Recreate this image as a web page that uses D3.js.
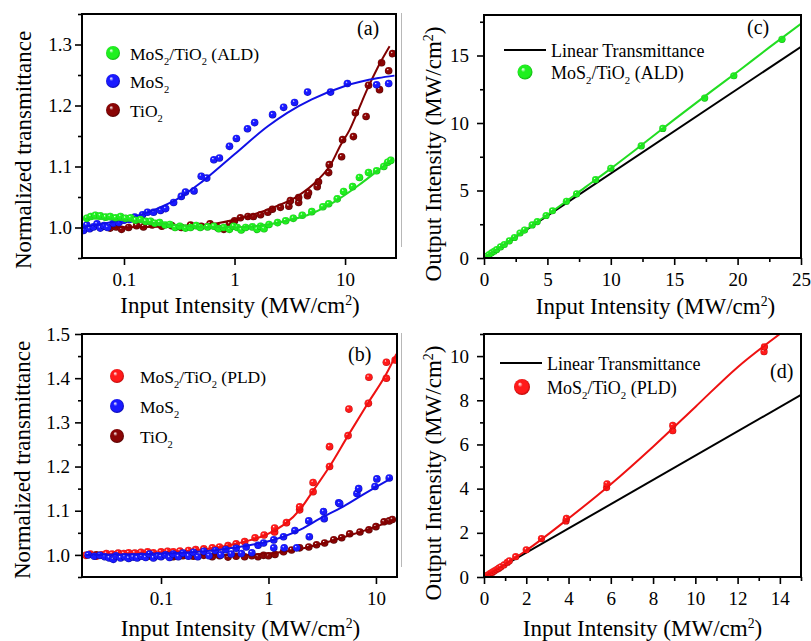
<!DOCTYPE html>
<html>
<head>
<meta charset="utf-8">
<script src="https://cdn.jsdelivr.net/npm/d3@7"></script>
<style>
  body { margin: 0; background: #fff; }
  svg { display: block; }
  svg text, svg tspan { font-family: "Liberation Serif", "Times New Roman", serif !important; fill: #000; }
</style>
</head>
<body>
<svg id="chart" width="811" height="641"></svg>
<script>
// ---------- Panel (a): normalized transmittance vs input intensity (ALD) ----------
const aTiO2Pts = [[0.065,1.002],[0.075,0.999],[0.085,1.001],[0.095,0.997],[0.11,1.0],[0.13,1.003],[0.15,1.001],[0.18,1.004],[0.22,1.002],[0.27,1.003],[0.33,1.0],[0.4,1.004],[0.5,1.002],[0.6,1.006],[0.7,1.0],[0.8,0.997],[0.9,1.006],[1.0,1.011],[1.13,1.016],[1.32,1.018],[1.48,1.018],[1.72,1.021],[2.0,1.025],[2.2,1.03],[2.6,1.033],[3.1,1.035],[3.2,1.044],[3.8,1.041],[3.8,1.049],[4.57,1.052],[4.67,1.057],[5.6,1.067],[5.75,1.075],[7.1,1.09],[7.2,1.103],[9.3,1.116],[9.5,1.144],[11.9,1.149],[12.4,1.188],[15.5,1.182],[16.3,1.233],[20.5,1.226],[21.4,1.27],[24.8,1.257],[26.9,1.285]];
const aTiO2Fit = [[0.055,1.0],[0.3,1.002],[0.7,1.007],[1.4,1.02],[2.25,1.033],[3.7,1.051],[5.75,1.079],[7.4,1.103],[9.1,1.135],[11,1.16],[13,1.19],[16,1.228],[19.7,1.262],[25.3,1.297]];
const aMoS2Pts = [[0.043,0.995],[0.046,1.004],[0.049,0.998],[0.053,1.001],[0.057,1.006],[0.061,0.999],[0.066,1.003],[0.071,1.0],[0.08,1.007],[0.09,1.008],[0.1,1.012],[0.112,1.013],[0.125,1.017],[0.147,1.021],[0.163,1.025],[0.185,1.025],[0.214,1.028],[0.238,1.031],[0.281,1.041],[0.33,1.051],[0.36,1.058],[0.43,1.06],[0.5,1.084],[0.56,1.081],[0.65,1.111],[0.73,1.114],[0.9,1.133],[1.04,1.146],[1.31,1.162],[1.52,1.172],[2.21,1.185],[2.78,1.197],[3.49,1.205],[4.58,1.222],[7.39,1.222],[10.5,1.236],[19.3,1.234],[24.8,1.236]];
const aMoS2Fit = [[0.043,1.001],[0.1,1.013],[0.2,1.031],[0.3,1.046],[0.5,1.074],[1,1.12],[2,1.166],[3,1.188],[5,1.21],[10,1.232],[20,1.245],[28,1.249]];
const aALDPts = [[0.046,1.015],[0.05,1.018],[0.055,1.02],[0.061,1.019],[0.068,1.017],[0.075,1.018],[0.084,1.016],[0.093,1.018],[0.103,1.015],[0.115,1.016],[0.127,1.012],[0.141,1.013],[0.157,1.01],[0.174,1.01],[0.19,1.007],[0.21,1.008],[0.235,1.004],[0.26,1.005],[0.29,1.0],[0.32,1.002],[0.36,0.999],[0.4,1.0],[0.45,1.003],[0.49,1.0],[0.57,1.001],[0.65,1.002],[0.72,0.998],[0.8,1.0],[0.9,0.997],[0.98,1.002],[1.06,1.0],[1.15,0.996],[1.26,1.0],[1.45,1.001],[1.6,0.997],[1.72,1.002],[1.85,0.998],[2.05,1.005],[2.45,1.008],[2.9,1.011],[3.4,1.015],[4.1,1.02],[5.0,1.026],[6.3,1.034],[7.1,1.039],[8.5,1.047],[9.7,1.059],[11.7,1.067],[13.5,1.082],[16.3,1.09],[19.3,1.093],[22.4,1.1],[24.3,1.107],[25.9,1.11]];
const aALDFit = [[0.045,1.015],[0.1,1.012],[0.2,1.007],[0.4,1.002],[0.8,1.0],[1.5,1.002],[3,1.011],[5,1.023],[8,1.042],[13,1.068],[20,1.094],[27,1.113]];
const aYTicks = [1.0, 1.1, 1.2, 1.3];
const aYMinor = [0.95, 1.05, 1.15, 1.25, 1.35];

// ---------- Panel (b): normalized transmittance vs input intensity (PLD) ----------
const bPLDPts = [[0.02,0.999],[0.022,1.002],[0.025,0.997],[0.028,1.0],[0.031,1.003],[0.035,1.002],[0.04,1.004],[0.045,1.003],[0.05,1.005],[0.057,1.004],[0.065,1.006],[0.075,1.007],[0.085,1.005],[0.1,1.007],[0.115,1.008],[0.13,1.007],[0.15,1.009],[0.18,1.01],[0.21,1.012],[0.25,1.014],[0.3,1.016],[0.35,1.018],[0.42,1.021],[0.5,1.025],[0.6,1.03],[0.75,1.039],[0.91,1.045],[1.14,1.052],[1.14,1.061],[1.47,1.073],[1.95,1.102],[1.95,1.109],[2.6,1.143],[2.6,1.164],[3.7,1.2],[3.7,1.245],[5.5,1.27],[5.6,1.33],[8.5,1.343],[8.6,1.402],[12.5,1.40],[12.5,1.436],[15.1,1.441]];
const bPLDFit = [[0.02,1.0],[0.1,1.005],[0.3,1.015],[0.6,1.03],[1,1.048],[2,1.105],[2.6,1.145],[3.7,1.2],[5.5,1.27],[8.5,1.345],[12.5,1.41],[15.5,1.455]];
const bMoS2Pts = [[0.021,1.0],[0.024,0.997],[0.027,0.999],[0.03,0.996],[0.033,0.993],[0.036,0.99],[0.038,0.998],[0.042,0.993],[0.046,0.996],[0.05,0.992],[0.055,0.995],[0.06,0.993],[0.066,0.997],[0.072,0.994],[0.078,1.002],[0.085,0.993],[0.093,0.998],[0.1,0.996],[0.11,1.0],[0.12,0.994],[0.13,1.002],[0.145,0.996],[0.16,1.004],[0.18,0.997],[0.2,1.006],[0.22,0.996],[0.25,1.008],[0.28,0.998],[0.32,1.01],[0.36,1.0],[0.4,1.012],[0.45,1.002],[0.5,1.015],[0.56,1.003],[0.62,1.018],[0.7,1.005],[0.8,1.022],[0.9,1.027],[1.12,1.034],[1.12,1.016],[1.38,1.041],[1.4,1.016],[1.76,1.055],[1.83,1.016],[2.37,1.077],[2.4,1.041],[3.25,1.098],[3.3,1.082],[4.5,1.118],[4.6,1.116],[6.65,1.139],[6.9,1.15],[9.8,1.155],[10.2,1.172],[13.3,1.174]];
const bMoS2Fit = [[0.02,1.0],[0.1,1.003],[0.3,1.01],[0.6,1.02],[1,1.031],[2,1.058],[3,1.082],[5,1.11],[8,1.14],[14,1.174]];
const bTiO2Pts = [[0.025,1.0],[0.04,0.998],[0.06,0.999],[0.08,0.997],[0.1,0.998],[0.13,0.996],[0.16,0.998],[0.2,0.997],[0.25,0.999],[0.3,0.996],[0.35,0.998],[0.42,0.995],[0.5,0.997],[0.6,0.996],[0.7,0.998],[0.8,0.996],[0.9,0.999],[1.0,0.998],[1.15,1.001],[1.38,1.007],[1.64,1.011],[1.95,1.016],[2.37,1.018],[2.8,1.023],[3.33,1.027],[4.05,1.034],[4.8,1.039],[5.7,1.048],[7.1,1.052],[8.6,1.057],[10,1.064],[11.9,1.075],[13.3,1.077],[14.2,1.08]];
const bTiO2Fit = [[0.02,1.0],[0.5,1.0],[1,1.003],[2,1.014],[5,1.04],[10,1.064],[15,1.08]];
const bYTicks = [1.0, 1.1, 1.2, 1.3, 1.4, 1.5];
const bYMinor = [0.95, 1.05, 1.15, 1.25, 1.35, 1.45];

const logXTicks = [0.1, 1, 10];

// ---------- Panel (c): output vs input intensity (ALD) ----------
const cALDPts = [[0.2,0.13],[0.4,0.26],[0.6,0.38],[0.8,0.5],[1.0,0.63],[1.3,0.82],[1.6,1.0],[2.0,1.27],[2.4,1.52],[2.84,1.85],[3.2,2.07],[3.8,2.45],[4.2,2.7],[4.9,3.15],[5.4,3.5],[6.5,4.2],[7.3,4.75],[8.8,5.8],[10.0,6.65],[12.4,8.3],[14.1,9.6],[17.4,11.85],[19.7,13.5],[23.5,16.2]];
const cALDFit = [[0,0.02],[2,1.27],[5,3.2],[8,5.25],[10,6.62],[12,8.05],[15,10.25],[18,12.4],[20,13.8],[22.5,15.6],[25,17.35]];
const cLinear = [[0,0],[25,15.65]];
const cXTicks = [0, 5, 10, 15, 20, 25];
const cXMinor = [2.5, 7.5, 12.5, 17.5, 22.5];
const cYTicks = [0, 5, 10, 15];
const cYMinor = [2.5, 7.5, 12.5, 17.5];

// ---------- Panel (d): output vs input intensity (PLD) ----------
const dPLDPts = [[0.1,0.05],[0.2,0.1],[0.3,0.17],[0.4,0.22],[0.5,0.28],[0.6,0.34],[0.7,0.4],[0.8,0.46],[0.95,0.55],[1.1,0.66],[1.2,0.73],[1.5,0.92],[2.0,1.23],[2.72,1.74],[3.88,2.54],[3.9,2.65],[5.8,4.05],[5.82,4.22],[8.93,6.62],[8.93,6.86],[13.25,10.2],[13.27,10.42]];
const dPLDFit = [[0,0],[2,1.2],[4,2.65],[6,4.2],[8,5.9],[10,7.7],[12,9.5],[14,11.0]];
const dLinear = [[0,0],[15,8.24]];
const dXTicks = [0, 2, 4, 6, 8, 10, 12, 14];
const dXMinor = [1, 3, 5, 7, 9, 11, 13, 15];
const dYTicks = [0, 2, 4, 6, 8, 10];
const dYMinor = [1, 3, 5, 7, 9, 11];

// ---------- colours ----------
const COL = {
  green: { base: "#1ff01f", dark: "#0a9a0a", line: "#22dd22" },
  blue:  { base: "#1a1aff", dark: "#00008a", line: "#1010e6" },
  maroon:{ base: "#8a0505", dark: "#3d0000", line: "#800000" },
  red:   { base: "#ff1a1a", dark: "#a00000", line: "#ee1111" }
};
const SERIF = "'Liberation Serif', 'Times New Roman', serif";

const svg = d3.select("#chart").style("font-family", SERIF);
const defs = svg.append("defs");

// shaded-sphere gradients for the scatter symbols
Object.entries(COL).forEach(([k, c]) => {
  const g = defs.append("radialGradient").attr("id", "sph-" + k)
    .attr("cx", "50%").attr("cy", "50%").attr("r", "55%")
    .attr("fx", "35%").attr("fy", "30%");
  g.append("stop").attr("offset", "0%").attr("stop-color", "#ffffff");
  g.append("stop").attr("offset", "28%").attr("stop-color", c.base);
  g.append("stop").attr("offset", "75%").attr("stop-color", c.base);
  g.append("stop").attr("offset", "100%").attr("stop-color", c.dark);
});

// text with sub/superscripts: parts = [[text, "sub"|"sup"|undefined], ...]
function richText(sel, parts, size) {
  let shift = 0;
  sel.style("font-family", SERIF);
  parts.forEach(([t, kind]) => {
    const ts = sel.append("tspan").text(t).style("font-family", SERIF);
    let target = 0;
    if (kind === "sub") { target = size * 0.3; ts.attr("font-size", size * 0.6); }
    else if (kind === "sup") { target = -size * 0.35; ts.attr("font-size", size * 0.6); }
    ts.attr("dy", target - shift);
    shift = target;
  });
}

const unitParts = [["Input Intensity (MW/cm"], ["2", "sup"], [")"]];

function drawPanel(p) {
  const [x0, y0, x1, y1] = p.box;
  const x = (p.xLog ? d3.scaleLog() : d3.scaleLinear()).domain(p.xDom).range([x0, x1]);
  const y = d3.scaleLinear().domain(p.yDom).range([y1, y0]);
  const g = svg.append("g");

  const clipId = "clip-" + p.id;
  defs.append("clipPath").attr("id", clipId)
    .append("rect").attr("x", x0).attr("y", y0).attr("width", x1 - x0).attr("height", y1 - y0);
  const plot = g.append("g").attr("clip-path", `url(#${clipId})`);

  const line = d3.line().x(d => x(d[0])).y(d => y(d[1])).curve(d3.curveMonotoneX);

  p.series.forEach(s => {
    if (s.pts) {
      plot.append("g").selectAll("circle").data(s.pts).join("circle")
        .attr("cx", d => x(d[0])).attr("cy", d => y(d[1])).attr("r", p.r)
        .attr("fill", `url(#sph-${s.color})`);
    }
    if (s.fit) {
      plot.append("path").datum(s.fit).attr("d", line)
        .attr("fill", "none").attr("stroke", s.lineColor || COL[s.color].line)
        .attr("stroke-width", s.lw || 2);
    }
  });

  // axes (ticks outward on left and bottom)
  const fmt = p.xFmt || (d => d);
  const ax = d3.axisBottom(x).tickValues(p.xTicks).tickSize(7).tickPadding(8).tickFormat(fmt);
  const ay = d3.axisLeft(y).tickValues(p.yTicks).tickSize(7).tickPadding(p.yPad).tickFormat(p.yFmt);
  g.append("g").attr("transform", `translate(0,${y1})`).call(ax);
  g.append("g").attr("transform", `translate(${x0},0)`).call(ay);
  if (p.xMinor) g.append("g").attr("transform", `translate(0,${y1})`)
    .call(d3.axisBottom(x).tickValues(p.xMinor).tickSize(4).tickFormat(""));
  if (p.yMinor) g.append("g").attr("transform", `translate(${x0},0)`)
    .call(d3.axisLeft(y).tickValues(p.yMinor).tickSize(4).tickFormat(""));
  g.selectAll(".domain").remove();
  g.selectAll("g").attr("font-family", null);
  g.selectAll(".tick line").attr("stroke", "#000").attr("stroke-width", 1.6);
  g.selectAll(".tick text").attr("font-size", 19).style("font-family", SERIF).attr("fill", "#000");

  // frame
  g.append("rect").attr("x", x0).attr("y", y0).attr("width", x1 - x0).attr("height", y1 - y0)
    .attr("fill", "none").attr("stroke", "#000").attr("stroke-width", 2);

  // axis titles
  richText(g.append("text").attr("x", (x0 + x1) / 2 + p.xTitleDx).attr("y", p.xTitleY)
    .attr("text-anchor", "middle").attr("font-size", 23), unitParts, 23);
  const yt = g.append("text").attr("transform", `translate(${p.yTitleX},${p.yTitleY}) rotate(-90)`)
    .attr("text-anchor", "middle").attr("font-size", 23);
  richText(yt, p.yTitle, 23);

  // panel tag
  g.append("text").attr("x", p.tag[0]).attr("y", p.tag[1]).attr("font-size", 20)
    .style("font-family", SERIF).text(p.tag[2]);

  // legend
  p.legend.forEach(l => {
    if (l.kind === "line") {
      g.append("line").attr("x1", l.x - 21).attr("x2", l.x + 21).attr("y1", l.y).attr("y2", l.y)
        .attr("stroke", "#000").attr("stroke-width", 2);
    } else {
      g.append("circle").attr("cx", l.x).attr("cy", l.y).attr("r", l.r)
        .attr("fill", `url(#sph-${l.color})`);
    }
    richText(g.append("text").attr("x", l.tx).attr("y", l.y + 7).attr("font-size", l.fs), l.label, l.fs);
  });
}

const ald = [["MoS"], ["2", "sub"], ["/TiO"], ["2", "sub"], [" (ALD)"]];
const pld = [["MoS"], ["2", "sub"], ["/TiO"], ["2", "sub"], [" (PLD)"]];
const mos2 = [["MoS"], ["2", "sub"]];
const tio2 = [["TiO"], ["2", "sub"]];
const normT = [["Normalized transmittance"]];
const outI = [["Output Intensity (MW/cm"], ["2", "sup"], [")"]];
const fmt1 = d3.format(".1f");
const logFmt = d => (d < 1 ? String(d) : d3.format("d")(d));

drawPanel({
  id: "a", box: [82, 14, 396, 258], xLog: true, xDom: [0.0417, 28.9], yDom: [0.95, 1.35],
  xTicks: logXTicks, xFmt: logFmt, yTicks: aYTicks, yMinor: aYMinor, yFmt: fmt1, yPad: 3,
  r: 3.8,
  series: [
    { pts: aTiO2Pts, fit: aTiO2Fit, color: "maroon" },
    { pts: aMoS2Pts, fit: aMoS2Fit, color: "blue" },
    { pts: aALDPts, fit: aALDFit, color: "green" }
  ],
  xTitleY: 313, xTitleDx: 1, yTitleX: 31, yTitleY: 150, yTitle: normT,
  tag: [357, 35, "(a)"],
  legend: [
    { x: 113, y: 53, r: 7, color: "green", tx: 130, label: ald, fs: 17.5 },
    { x: 113, y: 81, r: 7, color: "blue", tx: 130, label: mos2, fs: 17.5 },
    { x: 113, y: 110, r: 7, color: "maroon", tx: 130, label: tio2, fs: 17.5 }
  ]
});

drawPanel({
  id: "b", box: [82, 334, 397, 577], xLog: true, xDom: [0.0184, 15.7], yDom: [0.95, 1.5],
  xTicks: logXTicks, xFmt: logFmt, yTicks: bYTicks, yMinor: bYMinor, yFmt: fmt1, yPad: 5,
  r: 3.8,
  series: [
    { pts: bTiO2Pts, fit: bTiO2Fit, color: "maroon" },
    { pts: bPLDPts, fit: bPLDFit, color: "red" },
    { pts: bMoS2Pts, fit: bMoS2Fit, color: "blue" }
  ],
  xTitleY: 636, xTitleDx: 1, yTitleX: 30, yTitleY: 460, yTitle: normT,
  tag: [348, 361, "(b)"],
  legend: [
    { x: 117, y: 376, r: 7, color: "red", tx: 140, label: pld, fs: 17.5 },
    { x: 117, y: 406, r: 7, color: "blue", tx: 140, label: mos2, fs: 17.5 },
    { x: 117, y: 436, r: 7, color: "maroon", tx: 140, label: tio2, fs: 17.5 }
  ]
});

drawPanel({
  id: "c", box: [484, 15, 801, 258], xLog: false, xDom: [0, 25], yDom: [0, 18],
  xTicks: cXTicks, xMinor: cXMinor, yTicks: cYTicks, yMinor: cYMinor, yFmt: d3.format("d"), yPad: 8,
  r: 3.6,
  series: [
    { fit: cLinear, color: "green", lineColor: "#000", lw: 2 },
    { pts: cALDPts, fit: cALDFit, color: "green" }
  ],
  xTitleY: 314, xTitleDx: 13, yTitleX: 441, yTitleY: 154, yTitle: outI,
  tag: [747, 34, "(c)"],
  legend: [
    { kind: "line", x: 525, y: 50, tx: 551, label: [["Linear Transmittance"]], fs: 18 },
    { x: 525, y: 72, r: 7.5, color: "green", tx: 551, label: ald, fs: 18 }
  ]
});

drawPanel({
  id: "d", box: [484, 334, 801, 577], xLog: false, xDom: [0, 15], yDom: [0, 11],
  xTicks: dXTicks, xMinor: dXMinor, yTicks: dYTicks, yMinor: dYMinor, yFmt: d3.format("d"), yPad: 8,
  r: 3.6,
  series: [
    { fit: dLinear, color: "red", lineColor: "#000", lw: 2 },
    { pts: dPLDPts, fit: dPLDFit, color: "red" }
  ],
  xTitleY: 636, xTitleDx: 0, yTitleX: 441, yTitleY: 473, yTitle: outI,
  tag: [770, 378, "(d)"],
  legend: [
    { kind: "line", x: 521, y: 363, tx: 547, label: [["Linear Transmittance"]], fs: 18 },
    { x: 522, y: 387, r: 8, color: "red", tx: 547, label: pld, fs: 18 }
  ]
});

// thin grey separators to the left of the right-hand panels
svg.append("line").attr("x1", 401.5).attr("x2", 401.5).attr("y1", 13).attr("y2", 247).attr("stroke", "#b8b8b8");
svg.append("line").attr("x1", 401.5).attr("x2", 401.5).attr("y1", 333).attr("y2", 567).attr("stroke", "#b8b8b8");
</script>
</body>
</html>
